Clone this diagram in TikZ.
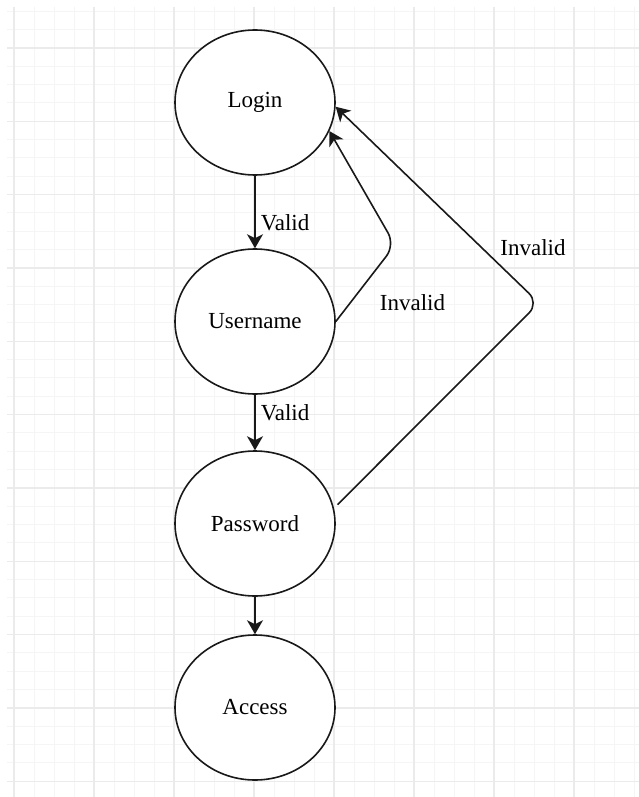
\documentclass[tikz,border=0pt]{standalone}
\usepackage{fontspec}
\setmainfont{Liberation Serif}
\usetikzlibrary{shapes.geometric,arrows.meta}
\tikzset{
  gridminor/.style={draw=black!4, line width=1pt},
  gridmajor/.style={draw=black!8, line width=1.2pt},
  state/.style={ellipse, draw=black!90, line width=1.6pt, fill=white, minimum width=160pt, minimum height=145pt, inner sep=0pt, font=\fontsize{23}{27}\selectfont, text=black},
  conn/.style={draw=black!90, line width=1.6pt, -{Stealth[length=14pt,width=16pt,inset=4pt]}},
  lbl/.style={font=\fontsize{23}{27}\selectfont, text=black, inner sep=0pt}
}
\begin{document}
\begin{tikzpicture}[x=1pt,y=-1pt]
\useasboundingbox (0,0) rectangle (639,797);
\fill[white] (0,0) rectangle (639,797);
\begin{scope}
\clip (7,7) rectangle (639,797);
\foreach \i in {0,...,31} { \draw[gridminor] ({14+20*\i},7) -- ({14+20*\i},797); }
\foreach \i in {-2,...,40} { \draw[gridminor] (7,{48+18.333*\i}) -- (639,{48+18.333*\i}); }
\foreach \i in {0,...,7} { \draw[gridmajor] ({14+80*\i},7) -- ({14+80*\i},797); }
\foreach \i in {0,...,10} { \draw[gridmajor] (7,{48+73.333*\i}) -- (639,{48+73.333*\i}); }
\end{scope}

\node[state] (login) at (255,102.5) {Login};
\node[state] (user) at (255,321.5) {Username};
\node[state] (pass) at (255,523.5) {Password};
\node[state] (access) at (255,707.5) {Access};

\coordinate (c1) at (395,245);
\coordinate (c2) at (539,303);

\draw[conn] (login.south) -- node[pos=0.65, anchor=west, lbl, xshift=5pt] (v1) {Valid} (user.north);
\draw[conn] (user.south) -- node[pos=0.32, anchor=west, lbl, xshift=5pt] (v2) {Valid} (pass.north);
\draw[conn] (pass.south) -- (access.north);

\draw[conn, rounded corners=14pt] (user.east) -- (c1) -- (login.-21);
\draw[conn, rounded corners=14pt, shorten <=5pt] (pass.11) -- (c2) -- (login.-3);

\node[lbl] (inv1) at (412.5,303) {Invalid};
\node[lbl] (inv2) at (533,248) {Invalid};
\end{tikzpicture}
\end{document}
